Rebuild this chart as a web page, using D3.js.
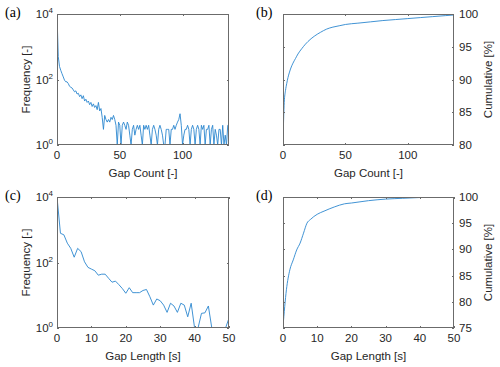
<!DOCTYPE html>
<html>
<head>
<meta charset="utf-8">
<script src="https://cdn.jsdelivr.net/npm/d3@7"></script>
<style>
body { margin: 0; background: #fff; }
svg text { font-family: "Liberation Sans", Arial, sans-serif; font-size: 11.5px; fill: #262626; }
svg .tag { font-family: "Liberation Serif", "Times New Roman", serif; font-size: 14px; fill: #000; }
</style>
</head>
<body>
<svg id="fig" width="500" height="367"></svg>
<script>
// (a) frequency of each gap count, index = gap count 0..137
const countFreq = [
	10000, 500, 250, 190, 150, 120, 95, 85, 85, 75,
	62, 58, 55, 48, 42, 45, 36, 38, 30, 34,
	26, 32, 22, 25, 20, 22, 17, 20, 15, 18,
	14, 16, 12, 20, 11, 13, 7, 3, 8, 6,
	5, 6, 5, 7, 6, 8, 6, 4, 1, 5,
	4, 1, 4, 5, 4, 3, 5, 4, 2, 1,
	3, 4, 2, 3, 4, 3, 4, 2, 1, 4,
	3, 4, 3, 4, 2, 1, 3, 4, 3, 2,
	1, 3, 4, 3, 2, 1, 1, 3, 3, 3,
	1, 3, 3, 4, 3, 4, 5, 6, 9, 4,
	1, 2, 3, 3, 4, 3, 1, 3, 4, 3,
	1, 3, 4, 3, 1, 4, 3, 4, 1, 3,
	3, 4, 1, 3, 4, 1, 3, 2, 1, 3,
	3, 1, 4, 1, 2, 1, 4, 4
]

// (b) cumulative share by gap count
const countCumX = [0, 1, 2, 3, 4, 5, 6, 8, 10, 12, 15, 18, 20, 25, 30, 35, 40, 45, 50, 60, 70, 80, 90, 100, 110, 120, 130, 137]
const countCumY = [80.3, 86.5, 88.3, 89.4, 90.3, 91.0, 91.6, 92.5, 93.2, 93.9, 94.7, 95.4, 95.8, 96.6, 97.2, 97.7, 98.0, 98.2, 98.4, 98.6, 98.8, 99.0, 99.15, 99.3, 99.45, 99.6, 99.75, 99.85]

// (c) frequency of each gap length, index = seconds 0..50
const lengthFreq = [
	10000, 780, 700, 390, 270, 145, 270, 215, 105, 71,
	63, 56, 41, 44, 44, 33, 25, 27, 21, 16,
	11.5, 17, 12, 12, 12, 14, 15, 9, 5, 7.7,
	6.8, 5, 3, 5.7, 4.7, 3, 5.7, 5, 2.2, 5.7,
	1, 1, 2.8, 2.9, 4.7, 1, 1, 1, 1, 1,
	2
]

// (d) cumulative share by gap length
const lengthCumX = [0, 1, 2, 3, 4, 5, 6, 7, 8, 10, 12, 15, 18, 20, 25, 30, 35, 40, 45, 50]
const lengthCumY = [75.25, 82.3, 86.1, 88.0, 89.9, 91.2, 93.1, 95.0, 95.7, 96.7, 97.3, 98.1, 98.7, 98.85, 99.3, 99.6, 99.75, 99.9, 99.95, 100]

const countTicks = [0, 50, 100]
const lengthTicks = [0, 10, 20, 30, 40, 50]
const logTicks = [1, 100, 10000]
const cumTicksB = [80, 85, 90, 95, 100]
const cumTicksD = [75, 80, 85, 90, 95, 100]

const lineColor = '#2b87cf'
const axisColor = '#6b6b6b'
const tickLen = 2

const svg = d3.select('#fig')

function drawPanel(p) {
	const g = svg.append('g')
	const x = d3.scaleLinear().domain(p.xDomain).range([p.left, p.right])
	const y = (p.log ? d3.scaleLog() : d3.scaleLinear()).domain(p.yDomain).range([p.bottom, p.top])

	const clipId = 'clip-' + p.tag
	g.append('clipPath').attr('id', clipId)
		.append('rect')
		.attr('x', p.left).attr('y', p.top)
		.attr('width', p.right - p.left).attr('height', p.bottom - p.top)

	const line = d3.line()
		.x(d => x(d[0]))
		.y(d => y(d[1]))
	if (p.smooth) line.curve(d3.curveMonotoneX)

	g.append('path')
		.datum(p.points)
		.attr('clip-path', `url(#${clipId})`)
		.attr('fill', 'none')
		.attr('stroke', lineColor)
		.attr('stroke-width', 0.9)
		.attr('stroke-linejoin', 'round')
		.attr('d', line)

	// box
	g.append('rect')
		.attr('x', p.left + 0.5).attr('y', p.top + 0.5)
		.attr('width', p.right - p.left - 1).attr('height', p.bottom - p.top - 1)
		.attr('fill', 'none')
		.attr('stroke', axisColor)
		.attr('stroke-width', 1)

	// x ticks, inside top and bottom
	p.xTicks.forEach(t => {
		const xp = Math.round(x(t)) + 0.5
		g.append('line').attr('x1', xp).attr('x2', xp)
			.attr('y1', p.bottom).attr('y2', p.bottom - tickLen)
			.attr('stroke', axisColor)
		g.append('line').attr('x1', xp).attr('x2', xp)
			.attr('y1', p.top).attr('y2', p.top + tickLen)
			.attr('stroke', axisColor)
		g.append('text')
			.attr('x', x(t)).attr('y', p.bottom + 14)
			.attr('text-anchor', 'middle')
			.text(t)
	})

	// y ticks, inside left and right
	p.yTicks.forEach(t => {
		const yp = Math.round(y(t)) + 0.5
		g.append('line').attr('x1', p.left).attr('x2', p.left + tickLen)
			.attr('y1', yp).attr('y2', yp)
			.attr('stroke', axisColor)
		g.append('line').attr('x1', p.right).attr('x2', p.right - tickLen)
			.attr('y1', yp).attr('y2', yp)
			.attr('stroke', axisColor)

		if (p.log) {
			const txt = g.append('text')
				.attr('x', p.left - 4).attr('y', y(t) + 4)
				.attr('text-anchor', 'end')
			txt.append('tspan').text('10')
			txt.append('tspan')
				.attr('dy', -5)
				.style('font-size', '8px')
				.text(Math.round(Math.log10(t)))
		} else {
			g.append('text')
				.attr('x', p.right + 5).attr('y', y(t) + 4)
				.attr('text-anchor', 'start')
				.text(t)
		}
	})

	g.append('text')
		.attr('x', (p.left + p.right) / 2).attr('y', p.bottom + 32)
		.attr('text-anchor', 'middle')
		.text(p.xLabel)

	const yLabelX = p.log ? p.left - 27 : p.right + 38
	g.append('text')
		.attr('transform', `translate(${yLabelX}, ${(p.top + p.bottom) / 2}) rotate(-90)`)
		.attr('text-anchor', 'middle')
		.text(p.yLabel)

	g.append('text')
		.attr('class', 'tag')
		.attr('x', p.tagX).attr('y', p.top + 3)
		.text(`(${p.tag})`)
}

drawPanel({
	tag: 'a', tagX: 5,
	left: 57, right: 229, top: 14, bottom: 145,
	log: true,
	xDomain: [0, 137], yDomain: [1, 10000],
	xTicks: countTicks, yTicks: logTicks,
	points: countFreq.map((v, i) => [i, v]),
	xLabel: 'Gap Count [-]', yLabel: 'Frequency [-]'
})

drawPanel({
	tag: 'b', tagX: 256,
	left: 283, right: 454, top: 14, bottom: 145,
	log: false, smooth: true,
	xDomain: [0, 137], yDomain: [80, 100],
	xTicks: countTicks, yTicks: cumTicksB,
	points: countCumX.map((v, i) => [v, countCumY[i]]),
	xLabel: 'Gap Count [-]', yLabel: 'Cumulative [%]'
})

drawPanel({
	tag: 'c', tagX: 5,
	left: 57, right: 229, top: 197, bottom: 328,
	log: true,
	xDomain: [0, 50], yDomain: [1, 10000],
	xTicks: lengthTicks, yTicks: logTicks,
	points: lengthFreq.map((v, i) => [i, v]),
	xLabel: 'Gap Length [s]', yLabel: 'Frequency [-]'
})

drawPanel({
	tag: 'd', tagX: 256,
	left: 283, right: 454, top: 197, bottom: 328,
	log: false, smooth: true,
	xDomain: [0, 50], yDomain: [75, 100],
	xTicks: lengthTicks, yTicks: cumTicksD,
	points: lengthCumX.map((v, i) => [v, lengthCumY[i]]),
	xLabel: 'Gap Length [s]', yLabel: 'Cumulative [%]'
})
</script>
</body>
</html>
